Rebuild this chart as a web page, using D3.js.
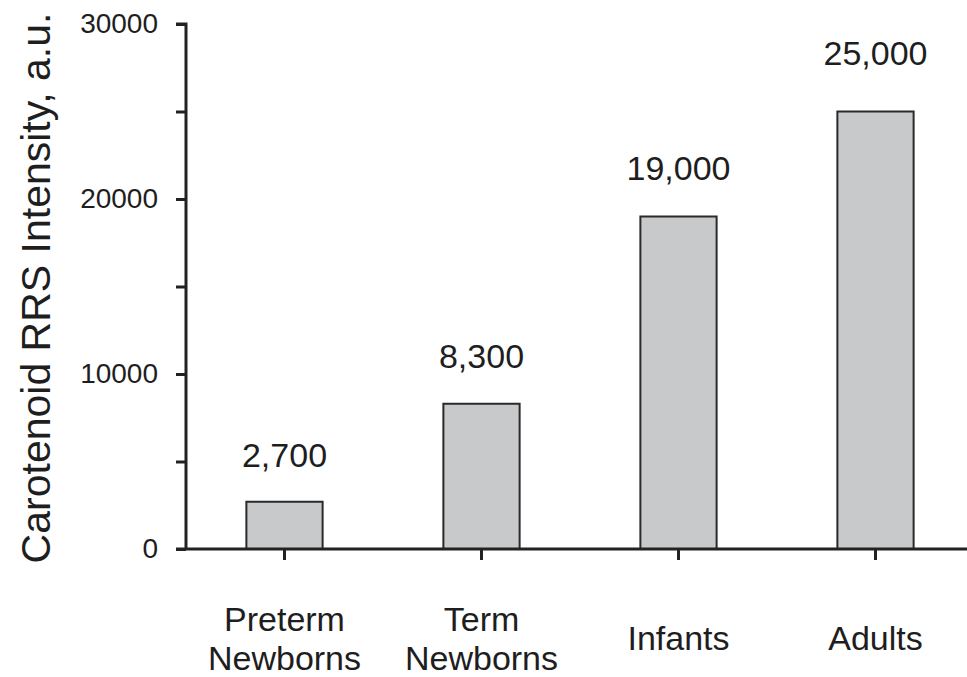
<!DOCTYPE html>
<html>
<head>
<meta charset="utf-8">
<script src="https://cdn.jsdelivr.net/npm/d3@7"></script>
<style>
  html, body { margin: 0; padding: 0; background: #fff; }
  svg text { font-family: "Liberation Sans", Arial, Helvetica, sans-serif; fill: #1e1e1e; }
</style>
</head>
<body>
<svg id="chart" width="967" height="677"></svg>
<script>
const categories = [["Preterm", "Newborns"], ["Term", "Newborns"], ["Infants"], ["Adults"]];
const values = [2700, 8300, 19000, 25000];
const valueLabels = ["2,700", "8,300", "19,000", "25,000"];
const yTickValues = [0, 5000, 10000, 15000, 20000, 25000, 30000];
const yTickLabels = ["0", "", "10000", "", "20000", "", "30000"];
const yTitle = "Carotenoid RRS Intensity, a.u.";

// layout (not data)
const labelGap = [35, 36, 37, 47];

const svg = d3.select("#chart");
const x0 = 186, x1 = 974, yTop = 24, yBot = 549;

const x = d3.scaleBand().domain(d3.range(categories.length)).range([x0, x1]).paddingInner(0.613).paddingOuter(0.3065);
const y = d3.scaleLinear().domain([0, 30000]).range([yBot, yTop]);

// bars
svg.selectAll("rect.bar").data(values).enter().append("rect")
  .attr("class", "bar")
  .attr("x", (d, i) => x(i))
  .attr("width", x.bandwidth())
  .attr("y", d => y(d))
  .attr("height", d => y(0) - y(d))
  .attr("fill", "#c8c9cb")
  .attr("stroke", "#2a2a2a")
  .attr("stroke-width", 2);

// value labels
svg.selectAll("text.val").data(values).enter().append("text")
  .attr("class", "val")
  .attr("x", (d, i) => x(i) + x.bandwidth() / 2)
  .attr("y", (d, i) => y(d) - labelGap[i])
  .attr("text-anchor", "middle")
  .attr("font-size", 34)
  .text((d, i) => valueLabels[i]);

// y axis
const yAxis = d3.axisLeft(y).tickValues(yTickValues).tickSize(10).tickPadding(18)
  .tickFormat((d, i) => yTickLabels[i]);
const gy = svg.append("g").attr("transform", `translate(${x0},0)`).call(yAxis);
gy.select(".domain").attr("d", `M-10,${yTop}H0V${yBot}`).attr("stroke", "#222").attr("stroke-width", 3);
gy.selectAll(".tick line").attr("stroke", "#222").attr("stroke-width", 3);
gy.selectAll(".tick text").attr("font-size", 28).attr("fill", "#1e1e1e")
  .style("font-family", '"Liberation Sans", Arial, sans-serif');

// x axis
const xAxis = d3.axisBottom(x).tickSize(11).tickFormat("");
const gx = svg.append("g").attr("transform", `translate(0,${yBot})`).call(xAxis);
gx.select(".domain").attr("d", `M${x0 - 10},0H${x1}`).attr("stroke", "#222").attr("stroke-width", 3);
gx.selectAll(".tick line").attr("stroke", "#222").attr("stroke-width", 3);

// category labels
categories.forEach((lines, i) => {
  const cx = x(i) + x.bandwidth() / 2;
  const t = svg.append("text").attr("text-anchor", "middle").attr("font-size", 34);
  if (lines.length === 2) {
    t.append("tspan").attr("x", cx).attr("y", 631).text(lines[0]);
    t.append("tspan").attr("x", cx).attr("y", 670).text(lines[1]);
  } else {
    t.append("tspan").attr("x", cx).attr("y", 650).text(lines[0]);
  }
});

// y title
svg.append("text")
  .attr("transform", "translate(50,288) rotate(-90)")
  .attr("text-anchor", "middle")
  .attr("font-size", 41)
  .text(yTitle);
</script>
</body>
</html>
